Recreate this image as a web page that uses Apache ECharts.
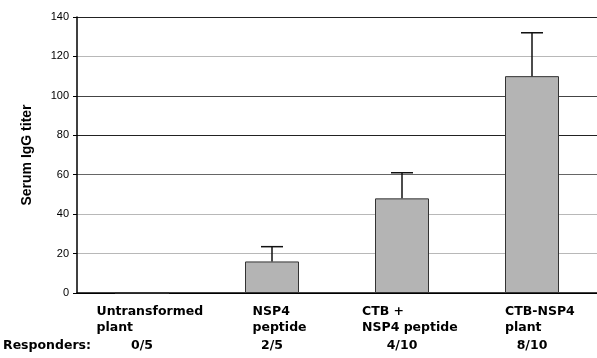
<!DOCTYPE html>
<html>
<head>
<meta charset="utf-8">
<script src="https://cdn.jsdelivr.net/npm/echarts@6/dist/echarts.min.js"></script>
<style>
html,body{margin:0;padding:0;background:#fff;}
#chart{width:597px;height:358px;}
</style>
</head>
<body>
<div id="chart"></div>
<script>
var categories = ['Untransformed\nplant', 'NSP4\npeptide', 'CTB +\nNSP4 peptide', 'CTB-NSP4\nplant'];
var titers = [0, 16, 48, 110];
var errors = [0, 7.5, 13, 22];
var responders = ['0/5', '2/5', '4/10', '8/10'];
var yTicks = [0, 20, 40, 60, 80, 100, 120, 140];

var labelFont = 'bold 12.5px "DejaVu Sans"';
var cvs = document.createElement('canvas').getContext('2d');
cvs.font = labelFont;
var rich = {};
categories.forEach(function (c, i) {
  var w = 0;
  c.split('\n').forEach(function (l) { w = Math.max(w, cvs.measureText(l).width); });
  rich['w' + i] = { width: Math.ceil(w), padding: [0, 0, 0, 16], align: 'left', fontFamily: 'DejaVu Sans', fontWeight: 'bold', fontSize: 12.5, lineHeight: 16, color: '#000' };
});

var chart = echarts.init(document.getElementById('chart'));
chart.setOption({
  animation: false,
  grid: { left: 77, right: 0, top: 17, bottom: 65, containLabel: false },
  xAxis: [{
    type: 'category',
    data: categories,
    axisLine: { lineStyle: { color: '#000', width: 1.5 } },
    axisTick: { length: 4, lineStyle: { color: '#000' } },
    axisLabel: {
      interval: 0,
      margin: 11,
      formatter: function (v, i) {
        return v.split('\n').map(function (l) { return '{w' + i + '|' + l + '}'; }).join('\n');
      },
      rich: rich
    }
  }, {
    type: 'category',
    data: responders,
    position: 'bottom',
    axisLine: { show: false },
    axisTick: { show: false },
    axisLabel: {
      interval: 0,
      margin: 46,
      fontFamily: 'DejaVu Sans',
      fontWeight: 'bold',
      fontSize: 12.5,
      color: '#000'
    }
  }],
  yAxis: {
    type: 'value',
    min: yTicks[0],
    max: yTicks[yTicks.length - 1],
    interval: 20,
    name: 'Serum IgG titer',
    nameLocation: 'middle',
    nameGap: 43,
    nameTextStyle: { fontFamily: 'Liberation Sans', fontWeight: 'bold', fontSize: 14, color: '#000' },
    axisLine: { show: true, lineStyle: { color: '#000', width: 1.5 } },
    axisTick: { show: true, length: 4, lineStyle: { color: '#000' } },
    axisLabel: { margin: 8, fontFamily: 'Liberation Sans', fontSize: 11, color: '#000' },
    splitLine: { show: true, lineStyle: { width: 1, color: ['#000', '#b8b8b8', '#b8b8b8', '#666', '#222', '#444', '#b8b8b8', '#222'] } }
  },
  graphic: [{
    type: 'text',
    left: 3,
    top: 339,
    style: { text: 'Responders:', fill: '#000', font: 'bold 12.5px "DejaVu Sans"' }
  }],
  series: [{
    type: 'bar',
    data: titers,
    barWidth: 54,
    itemStyle: { color: '#b4b4b4', borderColor: '#333', borderWidth: 1 },
    z: 2
  }, {
    type: 'custom',
    data: titers.map(function (v, i) { return [i, v, v + errors[i]]; }),
    renderItem: function (params, api) {
      if (api.value(2) === api.value(1)) return null;
      var lo = api.coord([api.value(0), api.value(1)]);
      var hi = api.coord([api.value(0), api.value(2)]);
      var cap = 11;
      return {
        type: 'group',
        children: [
          { type: 'line', shape: { x1: lo[0], y1: lo[1], x2: hi[0], y2: hi[1] }, style: { stroke: '#111', lineWidth: 1.5 } },
          { type: 'line', shape: { x1: hi[0] - cap, y1: hi[1], x2: hi[0] + cap, y2: hi[1] }, style: { stroke: '#111', lineWidth: 1.5 } }
        ]
      };
    },
    z: 3
  }]
});
</script>
</body>
</html>
